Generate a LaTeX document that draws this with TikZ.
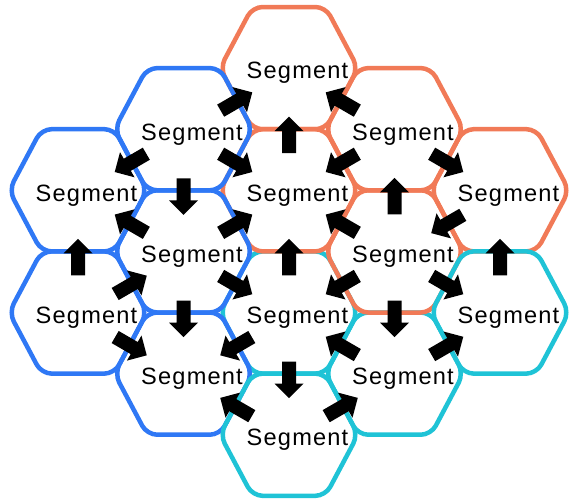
\documentclass[tikz,border=0pt]{standalone}
\usepackage{fontspec}
\setmainfont{Liberation Sans}[LetterSpace=5]
\usetikzlibrary{calc}
\definecolor{hexblue}{HTML}{2F78F5}
\definecolor{hexorange}{HTML}{F17A57}
\definecolor{hexcyan}{HTML}{1FC3D6}
\tikzset{
  hexline/.style={line width=4.5pt, rounded corners=10pt},
  seglabel/.style={anchor=base, inner sep=0pt, font=\fontsize{23.6}{28}\selectfont},
  blockarrow/.pic={\fill[black] (-18pt,-7pt) -- (4pt,-7pt) -- (4pt,-14.5pt) -- (18.5pt,0pt)
     -- (4pt,14.5pt) -- (4pt,7pt) -- (-18pt,7pt) -- cycle;}
}
% hexagon: #1 name, #2 colour
\newcommand\hexcell[2]{%
  \draw[hexline, draw=#2] ($(#1)+(0,-61.1)$) -- ++(36.5,0) -- ++(32.5,61.1)
     -- ++(-32.5,61.1) -- ++(-73,0) -- ++(-32.5,-61.1) -- ++(32.5,-61.1) -- cycle;}
% block arrow from #1 to #2, shifted #3 pt downwards
\newcommand\flowarrow[3]{%
  \path let \p1=($(#2)-(#1)$), \n1={atan2(\y1,\x1)} in
    ($(#1)!0.5!(#2)+(0pt,-#3pt)$) pic[rotate=\n1]{blockarrow};}
\begin{document}
\begin{tikzpicture}[x=1pt,y=-1pt]
\useasboundingbox (0,0) rectangle (570,501);
% centres
\coordinate (h20) at (289,68.1);
\coordinate (h11) at (183.5,129.2);
\coordinate (h31) at (394.5,129.2);
\coordinate (h02) at (78,190.3);
\coordinate (h22) at (289,190.3);
\coordinate (h42) at (500,190.3);
\coordinate (h13) at (183.5,251.4);
\coordinate (h33) at (394.5,251.4);
\coordinate (h04) at (78,312.5);
\coordinate (h24) at (289,312.5);
\coordinate (h44) at (500,312.5);
\coordinate (h15) at (183.5,373.6);
\coordinate (h35) at (394.5,373.6);
\coordinate (h26) at (289,434.7);
% hexagons
\hexcell{h35}{hexcyan}
\hexcell{h24}{hexcyan}
\hexcell{h20}{hexorange}
\hexcell{h31}{hexorange}
\hexcell{h22}{hexorange}
\hexcell{h42}{hexorange}
\hexcell{h33}{hexorange}
\hexcell{h11}{hexblue}
\hexcell{h02}{hexblue}
\hexcell{h13}{hexblue}
\hexcell{h04}{hexblue}
\hexcell{h15}{hexblue}
\hexcell{h44}{hexcyan}
\hexcell{h26}{hexcyan}
% labels
\foreach \h in {h20,h11,h31,h02,h22,h42,h13,h33,h04,h24,h44,h15,h35,h26}
  \node[seglabel] (t\h) at ($(\h)+(8.5,10.8)$) {Segment};
% arrows
\flowarrow{h11}{h20}{3}
\flowarrow{h22}{h20}{6}
\flowarrow{h31}{h20}{3}
\flowarrow{h11}{h02}{3}
\flowarrow{h11}{h13}{6}
\flowarrow{h11}{h22}{3}
\flowarrow{h04}{h02}{6}
\flowarrow{h13}{h02}{3}
\flowarrow{h13}{h22}{3}
\flowarrow{h33}{h31}{6}
\flowarrow{h31}{h22}{3}
\flowarrow{h31}{h42}{3}
\flowarrow{h42}{h33}{3}
\flowarrow{h24}{h22}{6}
\flowarrow{h33}{h22}{3}
\flowarrow{h13}{h24}{3}
\flowarrow{h04}{h13}{3}
\flowarrow{h13}{h15}{6}
\flowarrow{h04}{h15}{3}
\flowarrow{h24}{h15}{3}
\flowarrow{h26}{h15}{3}
\flowarrow{h24}{h26}{6}
\flowarrow{h26}{h35}{3}
\flowarrow{h33}{h24}{3}
\flowarrow{h33}{h44}{3}
\flowarrow{h44}{h42}{6}
\flowarrow{h33}{h35}{6}
\flowarrow{h35}{h24}{3}
\flowarrow{h35}{h44}{3}
\end{tikzpicture}
\end{document}
